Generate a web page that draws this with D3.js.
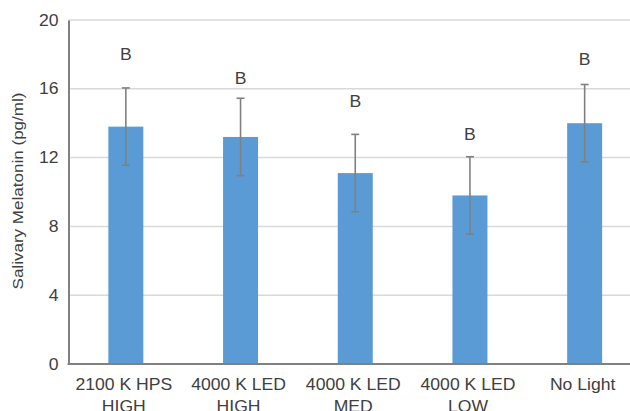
<!DOCTYPE html>
<html>
<head>
<meta charset="utf-8">
<script src="https://cdn.jsdelivr.net/npm/d3@7"></script>
<style>
  html, body { margin: 0; padding: 0; background: #fff; }
  svg { display: block; font-family: "Liberation Sans", Arial, sans-serif; }
</style>
</head>
<body>
<svg id="chart" width="630" height="411"></svg>
<script>
// Treatment groups (two-line labels)
const categories = [
  ["2100 K HPS", "HIGH"],
  ["4000 K LED", "HIGH"],
  ["4000 K LED", "MED"],
  ["4000 K LED", "LOW"],
  ["No Light", ""]
];
// Mean salivary melatonin (pg/ml) and standard error
const means = [13.8, 13.2, 11.1, 9.8, 14.0];
const errors = [2.25, 2.25, 2.25, 2.25, 2.25];
// Significance letters and the height (pg/ml) at which each is drawn
const letters = ["B", "B", "B", "B", "B"];
const letterHeights = [18.0, 16.6, 15.25, 13.35, 17.7];
const yTicks = [0, 4, 8, 12, 16, 20];

const svg = d3.select("#chart");
const plotLeft = 68.5, plotRight = 642, plotTop = 20, plotBottom = 364;
const stretch = 1.1; // text is set slightly wide

const x = d3.scaleBand()
  .domain(d3.range(categories.length))
  .range([plotLeft, plotRight])
  .paddingInner(0.695)
  .paddingOuter(0.3475);
const cx = i => x(i) + x.bandwidth() / 2;

const y = d3.scaleLinear().domain([0, 20]).range([plotBottom, plotTop]);

// Horizontal gridlines
svg.append("g")
  .selectAll("line")
  .data(yTicks.filter(d => d > 0))
  .join("line")
  .attr("x1", plotLeft).attr("x2", 630)
  .attr("y1", d => y(d)).attr("y2", d => y(d))
  .attr("stroke", "#d9d9d9").attr("stroke-width", 1.5);

// Bars
svg.append("g")
  .selectAll("rect")
  .data(means)
  .join("rect")
  .attr("x", (d, i) => x(i))
  .attr("width", x.bandwidth())
  .attr("y", d => y(d))
  .attr("height", d => y(0) - y(d))
  .attr("fill", "#5b9bd5");

// Error bars
const eb = svg.append("g").attr("stroke", "#808080").attr("stroke-width", 1.6);
means.forEach((m, i) => {
  const hi = y(m + errors[i]), lo = y(m - errors[i]);
  eb.append("line").attr("x1", cx(i)).attr("x2", cx(i)).attr("y1", hi).attr("y2", lo);
  eb.append("line").attr("x1", cx(i) - 4).attr("x2", cx(i) + 4).attr("y1", hi).attr("y2", hi);
  eb.append("line").attr("x1", cx(i) - 4).attr("x2", cx(i) + 4).attr("y1", lo).attr("y2", lo);
});

// Significance letters
svg.append("g")
  .selectAll("text")
  .data(letters)
  .join("text")
  .attr("transform", (d, i) => `translate(${cx(i)},${y(letterHeights[i])}) scale(${stretch},1)`)
  .attr("dy", "0.36em")
  .attr("text-anchor", "middle")
  .attr("font-size", 16)
  .attr("fill", "#404040")
  .text(d => d);

// Y axis
const yAxis = svg.append("g")
  .attr("transform", `translate(${plotLeft},0)`)
  .call(d3.axisLeft(y).tickValues(yTicks).tickSize(0).tickPadding(10));
yAxis.select(".domain").attr("stroke", "#808080").attr("stroke-width", 2);
yAxis.selectAll(".tick text")
  .attr("x", null)
  .attr("font-size", 16).attr("fill", "#404040")
  .attr("font-family", "Liberation Sans, Arial, sans-serif")
  .attr("transform", `translate(-10,0) scale(${stretch},1)`);

// X axis baseline
svg.append("line")
  .attr("x1", plotLeft - 1).attr("x2", 630)
  .attr("y1", y(0)).attr("y2", y(0))
  .attr("stroke", "#808080").attr("stroke-width", 2);

// X category labels
const xl = svg.append("g")
  .selectAll("text")
  .data(categories)
  .join("text")
  .attr("transform", (d, i) => `translate(${cx(i) - 2},390) scale(${stretch},1)`)
  .attr("text-anchor", "middle")
  .attr("font-size", 16)
  .attr("fill", "#404040");
xl.append("tspan").attr("x", 0).text(d => d[0]);
xl.append("tspan")
  .attr("x", 0)
  .attr("dy", 22)
  .text(d => d[1]);

// Y axis title
svg.append("text")
  .attr("transform", `translate(23,${191}) rotate(-90) scale(${stretch},1)`)
  .attr("text-anchor", "middle")
  .attr("font-size", 15.5)
  .attr("fill", "#404040")
  .text("Salivary Melatonin (pg/ml)");
</script>
</body>
</html>
